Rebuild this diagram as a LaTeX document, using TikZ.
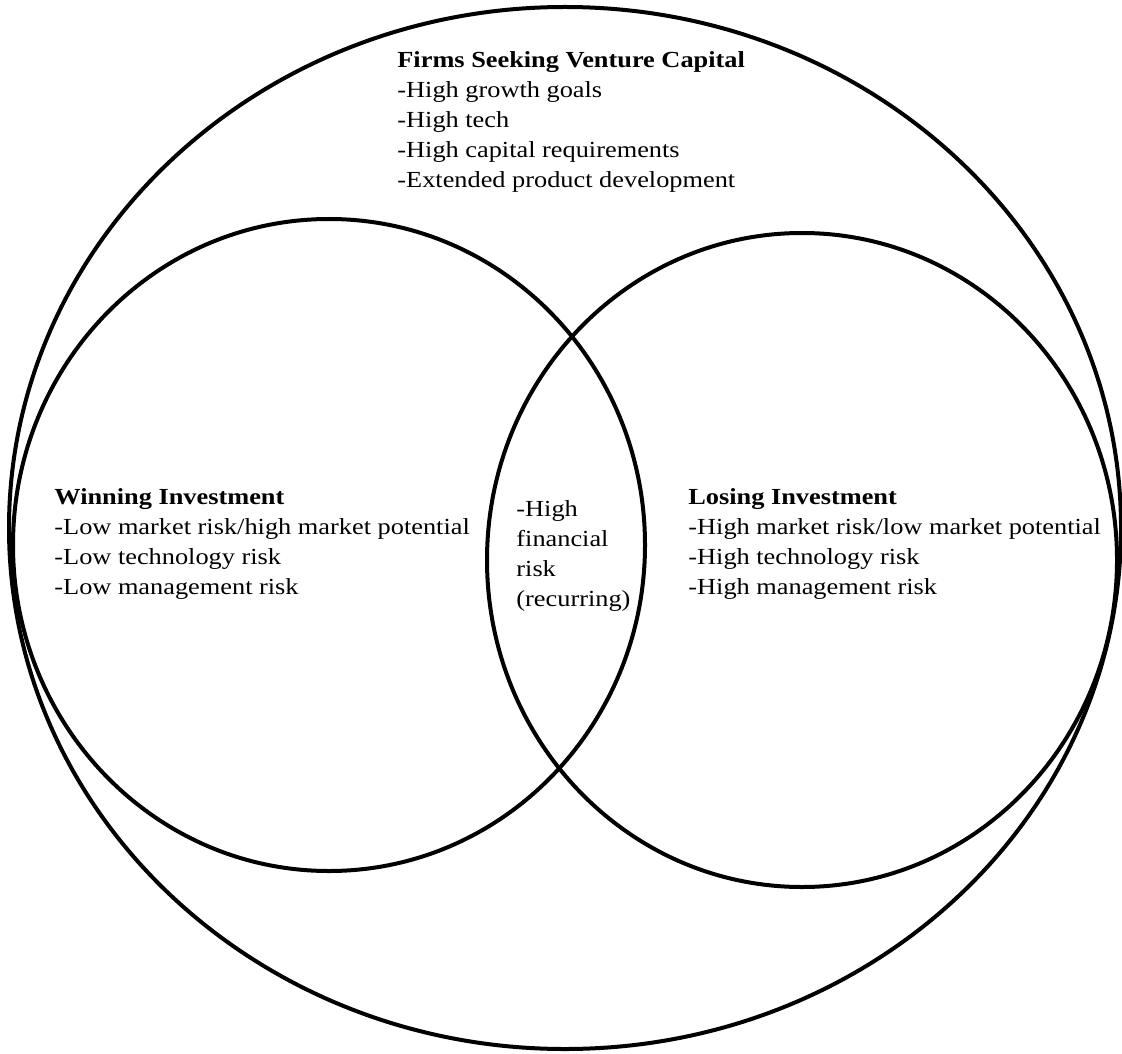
\documentclass[tikz,border=0pt]{standalone}
\usepackage{fontspec}
\setmainfont[FakeStretch=1.145]{Liberation Serif}
\usetikzlibrary{shapes.geometric}

\begin{document}
\begin{tikzpicture}[
  x=0.5pt,y=-0.5pt,
  ring/.style={ellipse,draw,line width=2pt,inner sep=0pt},
  blurb/.style={anchor=north west,inner sep=0pt,align=left,
    font=\fontsize{11.5}{15}\selectfont}
]
  \useasboundingbox (0,0) rectangle (1122,1053);

  \node[ring,minimum width=556pt,minimum height=521pt] (firms) at (565,528) {};
  \node[ring,minimum width=316pt,minimum height=326pt] (win) at (329,545) {};
  \node[ring,minimum width=315pt,minimum height=327pt] (lose) at (802,560) {};

  \node[blurb] (firmstext) at (397,51) {\textbf{Firms Seeking Venture Capital}\\
    -High growth goals\\-High tech\\-High capital requirements\\
    -Extended product development};
  \node[blurb] (wintext) at (54,488) {\textbf{Winning Investment}\\
    -Low market risk/high market potential\\-Low technology risk\\
    -Low management risk};
  \node[blurb] (midtext) at (516,500) {-High\\financial\\risk\\(recurring)};
  \node[blurb] (losetext) at (688,488) {\textbf{Losing Investment}\\
    -High market risk/low market potential\\-High technology risk\\
    -High management risk};
\end{tikzpicture}
\end{document}
